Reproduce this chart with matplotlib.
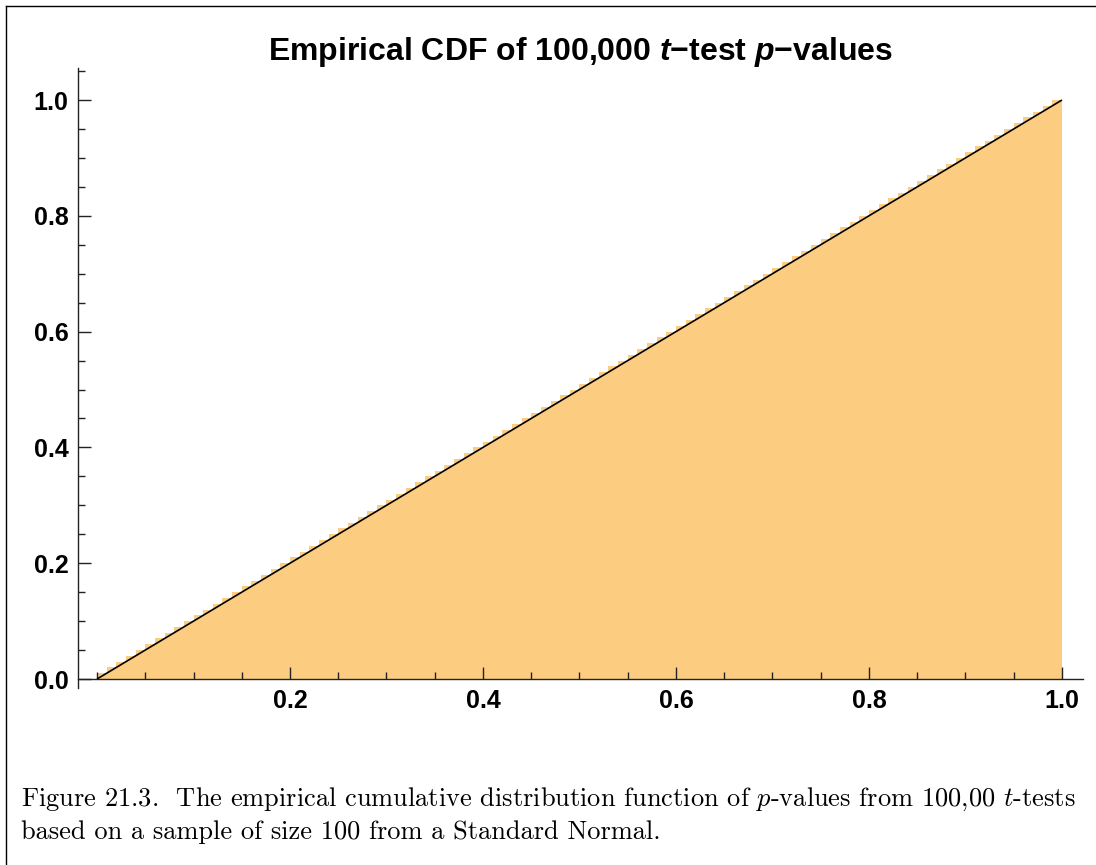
import numpy as np
import matplotlib
matplotlib.use("Agg")
import matplotlib.pyplot as plt
from matplotlib.lines import Line2D
from matplotlib.ticker import FixedLocator

# ---- data ----
bin_edges = np.linspace(0.0, 1.0, 101)
cdf_values = [
    0.01, 0.02, 0.03, 0.04, 0.05, 0.06, 0.07, 0.08, 0.09, 0.10,
    0.11, 0.12, 0.13, 0.14, 0.15, 0.16, 0.17, 0.18, 0.19, 0.20,
    0.21, 0.22, 0.23, 0.24, 0.25, 0.26, 0.27, 0.28, 0.29, 0.30,
    0.31, 0.32, 0.33, 0.34, 0.35, 0.36, 0.37, 0.38, 0.39, 0.40,
    0.41, 0.42, 0.43, 0.44, 0.45, 0.46, 0.47, 0.48, 0.49, 0.50,
    0.51, 0.52, 0.53, 0.54, 0.55, 0.56, 0.57, 0.58, 0.59, 0.60,
    0.61, 0.62, 0.63, 0.64, 0.65, 0.66, 0.67, 0.68, 0.69, 0.70,
    0.71, 0.72, 0.73, 0.74, 0.75, 0.76, 0.77, 0.78, 0.79, 0.80,
    0.81, 0.82, 0.83, 0.84, 0.85, 0.86, 0.87, 0.88, 0.89, 0.90,
    0.91, 0.92, 0.93, 0.94, 0.95, 0.96, 0.97, 0.98, 0.99, 1.00,
]
uniform_x = [0.0, 1.0]
uniform_y = [0.0, 1.0]
x_major_ticks = [0.2, 0.4, 0.6, 0.8, 1.0]
x_tick_labels = ["0.2", "0.4", "0.6", "0.8", "1.0"]
y_major_ticks = [0.0, 0.2, 0.4, 0.6, 0.8, 1.0]
y_tick_labels = ["0.0", "0.2", "0.4", "0.6", "0.8", "1.0"]

title_text = r"Empirical CDF of 100,000 $t$−test $p$−values"
caption_line1 = r"Figure 21.3.  The empirical cumulative distribution function of $p$-values from 100,00 $t$-tests"
caption_line2 = r"based on a sample of size 100 from a Standard Normal."

# ---- style ----
plt.rcParams['mathtext.fontset'] = 'custom'
plt.rcParams['mathtext.it'] = 'Liberation Sans:italic:bold'
plt.rcParams['mathtext.rm'] = 'Liberation Sans:bold'
plt.rcParams['mathtext.bf'] = 'Liberation Sans:bold'

W, H = 1096, 865
fig = plt.figure(figsize=(W / 100, H / 100), dpi=100)

def px_x(p):
    return p / W

def px_y(p):
    return 1 - p / H

ax_left, ax_right, ax_top, ax_bottom = 78, 1083, 68, 688
ax = fig.add_axes([px_x(ax_left), px_y(ax_bottom),
                   (ax_right - ax_left) / W, (ax_bottom - ax_top) / H])

fill_color = '#FCCD80'
ax.stairs(cdf_values, bin_edges, fill=True, color=fill_color, linewidth=0)
ax.plot(uniform_x, uniform_y, color='black', linewidth=1.2, solid_capstyle='butt')

ax.set_xlim(-0.0197, 1.0218)
ax.set_ylim(-0.0155, 1.0553)

for s in ['top', 'right']:
    ax.spines[s].set_visible(False)
ax.spines['bottom'].set_position(('data', 0))
for s in ['bottom', 'left']:
    ax.spines[s].set_linewidth(1.0)
    ax.spines[s].set_color('#222222')

ax.xaxis.set_major_locator(FixedLocator(x_major_ticks))
ax.xaxis.set_minor_locator(FixedLocator(np.arange(0.0, 1.001, 0.05)))
ax.yaxis.set_major_locator(FixedLocator(y_major_ticks))
ax.yaxis.set_minor_locator(FixedLocator(np.arange(0.0, 1.051, 0.05)))
ax.set_xticklabels(x_tick_labels)
ax.set_yticklabels(y_tick_labels)

ax.tick_params(axis='both', which='major', direction='in', length=9, width=1.0,
               color='#222222', labelsize=18, pad=7)
ax.tick_params(axis='both', which='minor', direction='in', length=5, width=1.0,
               color='#222222')
for lbl in ax.get_xticklabels() + ax.get_yticklabels():
    lbl.set_fontweight('bold')
    lbl.set_family('Liberation Sans')
    lbl.set_fontsize(18)

# title
fig.text((ax_left + ax_right) / 2 / W, px_y(60), title_text,
         ha='center', va='baseline', fontsize=23, fontweight='bold',
         family='Liberation Sans', math_fontfamily='custom')

# caption
fig.text(px_x(21), px_y(806), caption_line1, ha='left', va='baseline',
         fontsize=19, family='cmr10', math_fontfamily='cm')
fig.text(px_x(21), px_y(839), caption_line2, ha='left', va='baseline',
         fontsize=19, family='cmr10', math_fontfamily='cm')

# page border (left and top)
fig.add_artist(Line2D([px_x(6), px_x(6)], [0, px_y(6)], transform=fig.transFigure,
                      color='black', linewidth=1.0))
fig.add_artist(Line2D([px_x(6), 1], [px_y(6), px_y(6)], transform=fig.transFigure,
                      color='black', linewidth=1.0))

fig.savefig('out.png', dpi=100)
